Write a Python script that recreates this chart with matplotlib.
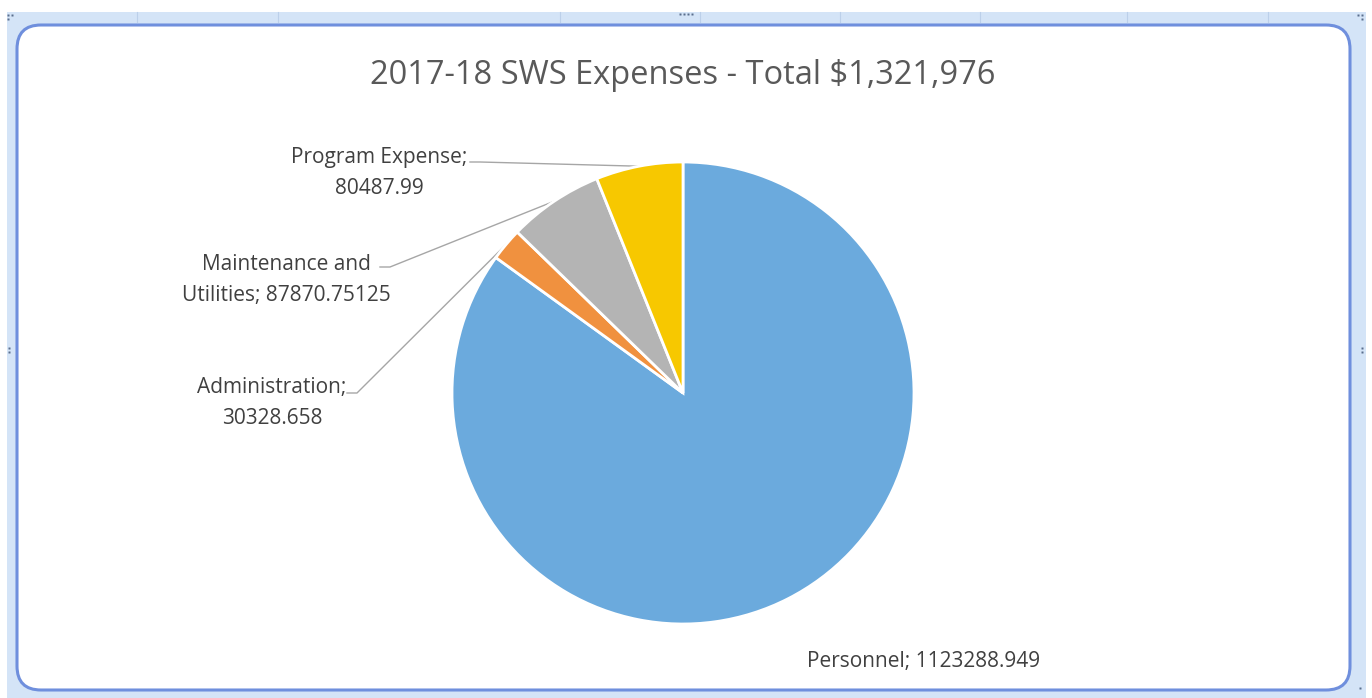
import matplotlib
matplotlib.use("Agg")
import matplotlib.pyplot as plt
from matplotlib.patches import FancyBboxPatch, Rectangle
import numpy as np

# ---- data ----
categories = ["Personnel", "Administration", "Maintenance and Utilities", "Program Expense"]
values = [1123288.949, 30328.658, 87870.75125, 80487.99]
label_texts = ["Personnel; 1123288.949", "Administration;\n30328.658",
               "Maintenance and\nUtilities; 87870.75125", "Program Expense;\n80487.99"]
colors = ["#6BAADD", "#F0913F", "#B4B4B4", "#F7C800"]
title = "2017-18 SWS Expenses - Total $1,321,976"

W, H = 1372, 698
fig = plt.figure(figsize=(W / 100, H / 100), dpi=100)
FONT = ["Open Sans", "DejaVu Sans"]

# background axes in pixel coordinates (y downwards)
bg = fig.add_axes([0, 0, 1, 1], zorder=0)
bg.set_xlim(0, W)
bg.set_ylim(H, 0)
bg.axis("off")

# spreadsheet frame
bg.add_patch(Rectangle((7, 12), 1359, 690, facecolor="#D4E4F7", edgecolor="none"))
for gx in [137, 278, 560, 700, 840, 980, 1127, 1268]:
    bg.plot([gx, gx], [12, 22], color="#BCD0EA", lw=0.8)
bg.add_patch(FancyBboxPatch((17, 25), 1333, 665,
                            boxstyle="round,pad=0,rounding_size=24",
                            facecolor="white", edgecolor="#6F8FDD", lw=2.2))
# grips
for (gx, gy) in [(8, 15), (12, 15), (8, 19), (1358, 15), (1362, 15), (1362, 19),
                 (680, 14), (684, 14), (688, 14), (692, 14),
                 (9, 348), (9, 352), (1362, 348), (1362, 352), (1360, 688)]:
    bg.plot(gx, gy, marker="s", ms=1.6, color="#5A6E8C", mec="none")

bg.text(683, 75, title, ha="center", va="center", fontsize=23.5,
        color="#595959", family=FONT)

# pie axes
cx, cy, r = 683, 393, 231
pie_ax = fig.add_axes([(cx - r) / W, (H - cy - r) / H, 2 * r / W, 2 * r / H], zorder=1)
wedges, _ = pie_ax.pie(values, colors=colors, startangle=90, counterclock=False,
                       wedgeprops=dict(edgecolor="white", linewidth=2))
pie_ax.set_xlim(-1, 1)
pie_ax.set_ylim(-1, 1)
pie_ax.set_aspect("equal")
pie_ax.axis("off")

def wedge_point(w):
    ang = np.deg2rad((w.theta1 + w.theta2) / 2)
    x, y = pie_ax.transData.transform((np.cos(ang), np.sin(ang)))
    return x, H - y

# label placements (pixel positions of text centers)
label_pos = {
    0: (924, 661),
    1: (272, 403),
    2: (286, 280),
    3: (379, 173),
}
# leader start points for labels with lines
leader_start = {
    1: (347, 393),
    2: (380, 267),
    3: (470, 162),
}

for i, w in enumerate(wedges):
    x, y = label_pos[i]
    bg.text(x, y, label_texts[i], ha="center", va="center", fontsize=15,
            color="#404040", family=FONT, linespacing=1.62, zorder=3)
    if i in leader_start:
        sx, sy = leader_start[i]
        px, py = wedge_point(w)
        bg.plot([sx, sx + 10, px], [sy, sy, py], color="#A6A6A6", lw=1.0, zorder=2)

fig.savefig("out.png", dpi=100)
